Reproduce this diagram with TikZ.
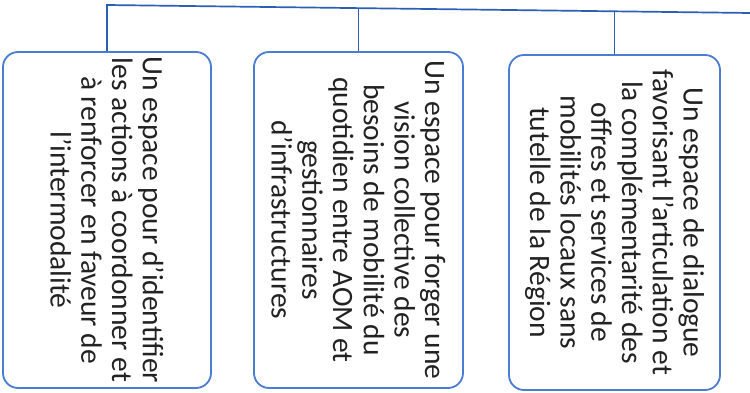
\documentclass[tikz,border=0pt]{standalone}
\usepackage{fontspec}
\setmainfont{Carlito}
\definecolor{boxblue}{HTML}{4A7DD2}
\definecolor{lineblue}{HTML}{2C5EB4}
\definecolor{txt}{HTML}{222222}
\begin{document}
\begin{tikzpicture}[x=1pt,y=-1pt,
  card/.style={draw=boxblue, line width=1.8pt, rounded corners=15pt, rotate=-90,
    align=center, text=txt, font=\fontsize{29.5}{30.7}\selectfont, inner sep=0pt},
  link/.style={draw=lineblue, line width=1.7pt}]
\useasboundingbox[fill=white] (0,0) rectangle (750,393);
\node[card, minimum width=336pt, minimum height=208pt] (b1) at (107,220)
  {Un espace pour d’identifier\\les actions à coordonner et\\à renforcer en faveur de\\l’intermodalité};
\node[card, minimum width=336pt, minimum height=209pt] (b2) at (358.5,220)
  {Un espace pour forger une\\vision collective des\\besoins de mobilité du\\quotidien entre AOM et\\gestionnaires\\d’infrastructures};
\node[card, minimum width=335pt, minimum height=211pt] (b3) at (614.5,222.5)
  {Un espace de dialogue\\favorisant l’articulation et\\la complémentarité des\\offres et services de\\mobilités locaux sans\\tutelle de la Région};
\coordinate (t1) at (107,5);
\coordinate (t2) at (358.5,8.5);
\coordinate (t3) at (614.5,11.5);
\coordinate (t4) at (750,13);
\draw[link] (b1.west) -- (t1) -- (t4);
\draw[link] (t2) -- (b2.west);
\draw[link] (t3) -- (b3.west);
\end{tikzpicture}
\end{document}
